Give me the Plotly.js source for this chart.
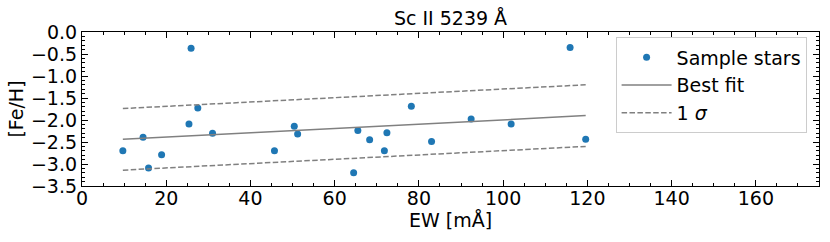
<!DOCTYPE html>
<html>
<head>
<meta charset="utf-8">
<script src="https://cdn.plot.ly/plotly-3.0.1.min.js"></script>
<style>html,body{margin:0;padding:0;background:#fff;}#chart{width:830px;height:242px;}</style>
</head>
<body>
<div id="chart"></div>
<script>
// Sample stars: equivalent width [mÅ] and [Fe/H]
const ew = [9.7, 14.5, 15.8, 18.9, 25.4, 25.9, 27.5, 31.0, 45.7, 50.4, 51.2,
            64.5, 65.5, 68.3, 71.8, 72.4, 78.2, 83.0, 92.4, 101.9, 115.9, 119.6];
const feh = [-2.70, -2.39, -3.09, -2.79, -2.09, -0.37, -1.73, -2.30, -2.70, -2.14, -2.32,
             -3.20, -2.24, -2.45, -2.70, -2.29, -1.69, -2.49, -1.98, -2.09, -0.35, -2.44];
// Best-fit line end points and 1 sigma scatter
const fitX = [9.7, 119.6];
const fitY = [-2.44, -1.90];
const sigma = 0.70;
const upperY = fitY.map(v => v + sigma);
const lowerY = fitY.map(v => v - sigma);
const xTicks = [0, 20, 40, 60, 80, 100, 120, 140, 160];
const yTicks = [0, -0.5, -1, -1.5, -2, -2.5, -3, -3.5];
const yTickText = ['0.0', '\u22120.5', '\u22121.0', '\u22121.5', '\u22122.0', '\u22122.5', '\u22123.0', '\u22123.5'];

const FONT = 'DejaVu Sans';
const grey = '#808080';

const traces = [
  {x: ew, y: feh, mode: 'markers', type: 'scatter', name: 'Sample stars',
   marker: {color: '#1f77b4', size: 7}},
  {x: fitX, y: fitY, mode: 'lines', type: 'scatter', name: 'Best fit',
   line: {color: grey, width: 1.5}},
  {x: fitX, y: upperY, mode: 'lines', type: 'scatter', name: '1 <i>σ</i>',
   line: {color: grey, width: 1.5, dash: '5.5px,2.4px'}},
  {x: fitX, y: lowerY, mode: 'lines', type: 'scatter', name: '1 σ', showlegend: false,
   line: {color: grey, width: 1.5, dash: '5.5px,2.4px'}}
];

const axisCommon = {
  showgrid: false, zeroline: false, showline: true, linecolor: '#000', linewidth: 1.1,
  mirror: 'allticks', ticks: 'inside', ticklen: 6, tickwidth: 1, tickcolor: '#000',
  tickfont: {family: FONT, size: 19, color: '#000'}
};

const layout = {
  width: 830, height: 242,
  margin: {l: 82.3, r: 10.7, t: 32, b: 56.3},
  paper_bgcolor: '#fff', plot_bgcolor: '#fff',
  font: {family: FONT, size: 19, color: '#000'},
  title: {text: 'Sc II 5239 Å', font: {family: FONT, size: 19, color: '#000'},
          x: 0.5, xref: 'paper', y: 1 - 18.5 / 242, yref: 'container', yanchor: 'middle'},
  xaxis: Object.assign({}, axisCommon, {
    range: [0, 175], tickvals: xTicks, ticktext: xTicks.map(String),
    ticklabelstandoff: -5,
    minor: {dtick: 5, ticks: 'inside', ticklen: 3, tickwidth: 1, tickcolor: '#000'},
    title: {text: 'EW [mÅ]', font: {family: FONT, size: 19, color: '#000'}, standoff: 0}
  }),
  yaxis: Object.assign({}, axisCommon, {
    range: [-3.5, 0], tickvals: yTicks, ticktext: yTickText,
    minor: {dtick: 0.1, ticks: 'inside', ticklen: 3, tickwidth: 1, tickcolor: '#000'},
    title: {text: '[Fe/H]', font: {family: FONT, size: 19, color: '#000'}, standoff: 2}
  }),
  showlegend: true,
  legend: {x: 0.724, y: 0.965, xanchor: 'left', yanchor: 'top', itemwidth: 50,
           bgcolor: 'rgba(255,255,255,0.8)', bordercolor: '#cccccc', borderwidth: 1,
           font: {family: FONT, size: 19, color: '#000'}, tracegroupgap: 0}
};

Plotly.newPlot('chart', traces, layout, {staticPlot: true, displayModeBar: false});
</script>
</body>
</html>
